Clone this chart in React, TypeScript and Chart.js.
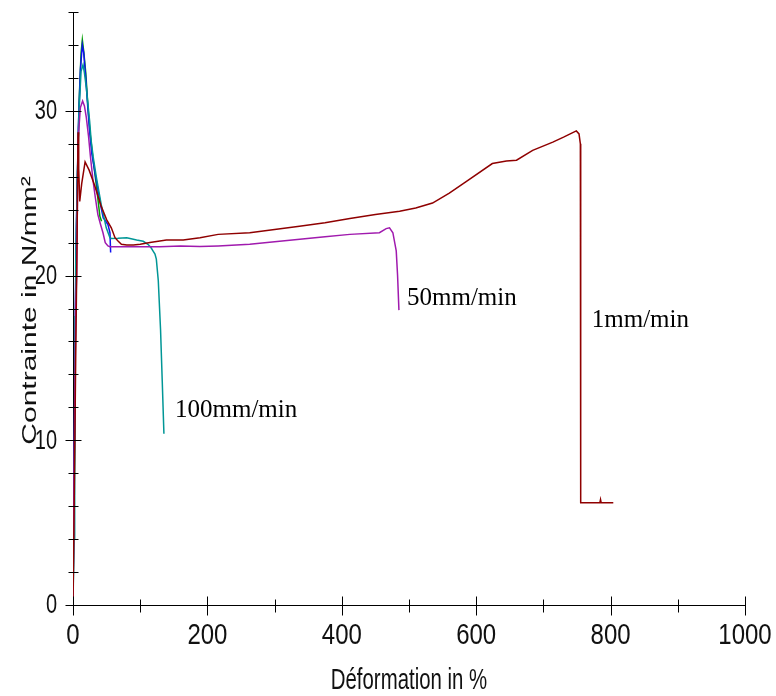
import React, { useEffect, useRef } from 'react';
import { Chart, registerables } from 'chart.js';

Chart.register(...registerables);

// 1mm/min (dark red)
const redX = [0, 2, 4, 6, 7.5, 8.5, 10, 13, 18, 24, 32, 42, 50, 57, 62.5, 67, 72, 80, 90, 100, 114.5, 139, 164, 189, 216, 263, 300, 337, 375, 412, 450, 486, 510, 535, 560, 585, 624, 645, 660, 684, 714, 730, 749, 753, 755, 755.5, 784, 785, 786, 804];
const redY = [0, 7, 15, 22, 28.7, 26.5, 24.5, 25.6, 26.9, 26.4, 25.5, 24.2, 23.4, 22.9, 22.3, 22.1, 21.9, 21.86, 21.86, 21.9, 22.0, 22.16, 22.16, 22.3, 22.5, 22.6, 22.8, 23.0, 23.2, 23.47, 23.7, 23.9, 24.1, 24.4, 25.0, 25.7, 26.8, 26.95, 27.0, 27.6, 28.1, 28.4, 28.78, 28.6, 28.0, 6.2, 6.2, 6.4, 6.2, 6.2];

// 50mm/min (purple)
const purpleX = [0, 2, 4, 5.5, 7.5, 11, 14.3, 17, 19.8, 23, 26, 29.7, 33, 37, 41, 44.6, 48, 52, 55, 80, 129, 160, 188.8, 216, 263, 300, 337.5, 375, 412, 456, 466, 471, 476, 481, 483, 485];
const purpleY = [0, 10, 18, 20.1, 28.2, 30.2, 30.6, 30.3, 29.6, 28.5, 27.2, 25.8, 24.8, 23.7, 23.1, 22.6, 22.0, 21.8, 21.75, 21.75, 21.75, 21.8, 21.76, 21.8, 21.9, 22.05, 22.2, 22.35, 22.5, 22.6, 22.85, 22.9, 22.6, 21.5, 20.0, 17.9];

// 100mm/min (teal)
const tealX = [0, 1.5, 2.5, 3, 4, 6, 9, 12, 14.9, 17, 19.8, 24.7, 27, 30, 34.6, 42, 49.5, 55, 57, 67, 80, 94.7, 104.5, 111.5, 116, 119, 122, 124, 126.9, 130.3, 132.8, 135.3];
const tealY = [0, 4, 12, 17.5, 20.5, 25, 30, 32.4, 32.8, 32.3, 31.4, 29.4, 28.2, 27.2, 26.0, 24.3, 22.9, 22.3, 22.25, 22.26, 22.3, 22.16, 22.08, 21.9, 21.7, 21.5, 21.3, 21.0, 19.7, 16.7, 13.6, 10.4];

// blue test
const blueX = [0, 2, 3.5, 5, 8, 11, 13.9, 16, 19, 22, 24.7, 28, 34.6, 42, 45, 47, 52, 55, 56];
const blueY = [0, 9, 18, 23, 29, 32.5, 34.0, 33.5, 32, 30.2, 28.8, 27.4, 25.8, 24.1, 23.5, 23.4, 23.1, 22.6, 21.4];

// green test
const greenX = [0, 2.5, 4, 6, 9, 12, 13.9, 16, 19, 22, 25, 30, 35, 40, 42.5];
const greenY = [0, 10, 19, 25, 30.5, 33.5, 34.3, 33.6, 32.3, 30.4, 28.8, 27.0, 25.4, 23.6, 23.3];

const annotationTexts = ['100mm/min', '50mm/min', '1mm/min'];
const annotationX = [151.8, 497, 772];
const annotationY = [11.4, 18.2, 16.85];

const xTitle = 'Déformation in %';
const yTitle = 'Contrainte in N/mm²';

const SANS = '"Liberation Sans", Arial, sans-serif';

const toPoints = (xs: number[], ys: number[]) => xs.map((x, i) => ({ x, y: ys[i] }));

const crossTicks = {
  id: 'crossTicks',
  afterDraw(chart: any) {
    const { ctx, chartArea, scales } = chart;
    const xs = scales.x;
    const ys = scales.y;
    ctx.save();
    ctx.strokeStyle = '#000';
    ctx.lineWidth = 1;
    const bottom = Math.round(chartArea.bottom) + 0.5;
    const left = Math.round(chartArea.left) + 0.5;
    xs.ticks.forEach((t: any) => {
      const px = Math.round(xs.getPixelForValue(t.value)) + 0.5;
      const major = t.value % 200 === 0;
      ctx.beginPath();
      ctx.moveTo(px, bottom - (major ? 9 : 6));
      ctx.lineTo(px, bottom + (major ? 10 : 7));
      ctx.stroke();
    });
    ys.ticks.forEach((t: any) => {
      const py = Math.round(ys.getPixelForValue(t.value)) + 0.5;
      const major = t.value % 10 === 0;
      ctx.beginPath();
      ctx.moveTo(left - (major ? 8 : 5), py);
      ctx.lineTo(left + (major ? 8 : 5), py);
      ctx.stroke();
    });
    ctx.restore();
  },
};

// Axis labels and titles, drawn slightly stretched as in the original export
const axisText = {
  id: 'axisText',
  afterDraw(chart: any) {
    const { ctx, chartArea, scales } = chart;
    const xs = scales.x;
    const ys = scales.y;
    ctx.save();
    ctx.fillStyle = '#111';
    ctx.textBaseline = 'middle';
    // x tick labels
    ctx.font = `24px ${SANS}`;
    ctx.textAlign = 'center';
    xs.ticks.forEach((t: any) => {
      if (t.value % 200 !== 0) return;
      ctx.save();
      ctx.translate(xs.getPixelForValue(t.value), chartArea.bottom + 31);
      ctx.scale(1, 1.2);
      ctx.fillText(String(t.value), 0, 0);
      ctx.restore();
    });
    // y tick labels
    ctx.font = `20px ${SANS}`;
    ctx.textAlign = 'right';
    ys.ticks.forEach((t: any) => {
      if (t.value % 10 !== 0) return;
      ctx.save();
      ctx.translate(chartArea.left - 16, ys.getPixelForValue(t.value) + 1);
      ctx.scale(1, 1.35);
      ctx.fillText(String(t.value), 0, 0);
      ctx.restore();
    });
    // x title
    ctx.font = `20px ${SANS}`;
    ctx.textAlign = 'center';
    ctx.save();
    ctx.translate((chartArea.left + chartArea.right) / 2, 681);
    ctx.scale(1.02, 1.45);
    ctx.fillText(xTitle, 0, 0);
    ctx.restore();
    // y title
    ctx.save();
    ctx.translate(30, (chartArea.top + chartArea.bottom) / 2 + 2);
    ctx.rotate(-Math.PI / 2);
    ctx.scale(1.5, 1.05);
    ctx.fillText(yTitle, 0, 0);
    ctx.restore();
    ctx.restore();
  },
};

const annotations = {
  id: 'annotations',
  afterDatasetsDraw(chart: any) {
    const { ctx, scales } = chart;
    ctx.save();
    ctx.fillStyle = '#000';
    ctx.font = '25px "Liberation Serif", "Times New Roman", serif';
    ctx.textAlign = 'left';
    ctx.textBaseline = 'alphabetic';
    annotationTexts.forEach((txt, i) => {
      ctx.fillText(txt, scales.x.getPixelForValue(annotationX[i]), scales.y.getPixelForValue(annotationY[i]));
    });
    ctx.restore();
  },
};

const zeroPad = (s: any) => {
  s.paddingLeft = 0;
  s.paddingRight = 0;
  s.paddingTop = 0;
  s.paddingBottom = 0;
};

export default function App() {
  const ref = useRef<HTMLCanvasElement | null>(null);
  useEffect(() => {
    document.body.style.margin = '0';
    const canvas = ref.current;
    if (!canvas) return;
    const mk = (label: string, xs: number[], ys: number[], color: string) => ({
      label,
      data: toPoints(xs, ys),
      borderColor: color,
      backgroundColor: color,
      borderWidth: 1.5,
      pointRadius: 0,
      showLine: true,
      fill: false,
      tension: 0,
    });
    const chart = new Chart(canvas, {
      type: 'scatter',
      data: {
        datasets: [
          mk('1mm/min', redX, redY, '#8f0000'),
          mk('50mm/min', purpleX, purpleY, '#a01aae'),
          mk('100mm/min', tealX, tealY, '#009696'),
          mk('blue', blueX, blueY, '#1010f0'),
          mk('green', greenX, greenY, '#00a000'),
        ],
      },
      options: {
        responsive: false,
        animation: false,
        layout: { padding: { left: 0, right: 31, top: 12, bottom: 0 } },
        plugins: { legend: { display: false }, tooltip: { enabled: false } },
        scales: {
          x: {
            type: 'linear',
            min: 0,
            max: 1000,
            afterFit: (s: any) => { s.height = 91; zeroPad(s); },
            grid: { display: false, drawTicks: false },
            border: { display: true, color: '#000', width: 1 },
            ticks: { stepSize: 100, autoSkip: false, display: false },
            title: { display: false, text: xTitle },
          },
          y: {
            type: 'linear',
            min: 0,
            max: 36,
            afterFit: (s: any) => { s.width = 73; zeroPad(s); },
            grid: { display: false, drawTicks: false },
            border: { display: true, color: '#000', width: 1 },
            ticks: { stepSize: 2, autoSkip: false, display: false },
            title: { display: false, text: yTitle },
          },
        },
      },
      plugins: [crossTicks, annotations, axisText],
    } as any);
    return () => chart.destroy();
  }, []);
  return <canvas ref={ref} width={776} height={696} style={{ display: 'block' }} />;
}
